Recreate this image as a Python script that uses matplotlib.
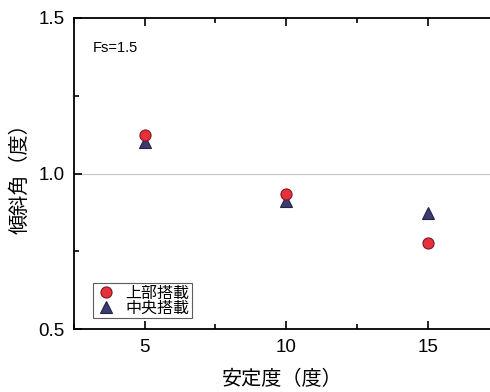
import matplotlib.pyplot as plt
from matplotlib.ticker import MultipleLocator

plt.rcParams['font.family'] = ['Liberation Sans', 'Noto Sans CJK JP', 'DejaVu Sans']

# data
stability = [5, 10, 15]
top_load = [1.124, 0.934, 0.778]
center_load = [1.102, 0.912, 0.873]
series_labels = ['上部搭載', '中央搭載']

fig = plt.figure(figsize=(4.9, 3.92), dpi=100)
ax = fig.add_axes([74 / 490, 1 - 329 / 392, 1 - 74 / 490, (329 - 18) / 392])

# reference line at 1.0
ax.axhline(1.0, color='#c8c8c8', lw=0.9, zorder=1)

ax.plot(stability, top_load, 'o', ms=8, color='#e8303c', mec='#7a1a20',
        mew=0.8, label=series_labels[0], zorder=3)
ax.plot(stability, center_load, '^', ms=8.5, color='#3c3c6e', mec='#22224a',
        mew=0.8, label=series_labels[1], zorder=2)

ax.set_xlim(2.5, 17.2)
ax.set_ylim(0.5, 1.5)
ax.xaxis.set_major_locator(MultipleLocator(5))
ax.xaxis.set_minor_locator(MultipleLocator(2.5))
ax.yaxis.set_major_locator(MultipleLocator(0.5))
ax.yaxis.set_minor_locator(MultipleLocator(0.25))
ax.yaxis.set_major_formatter(lambda v, p: f'{v:.1f}')
ax.tick_params(which='both', direction='in', top=True, width=1.2)
ax.tick_params(which='major', length=6, labelsize=13.5, pad=7)
ax.tick_params(which='minor', length=3.5)
ax.spines['right'].set_visible(False)
for s in ['left', 'bottom', 'top']:
    ax.spines[s].set_linewidth(1.3)

ax.set_xlabel('安定度（度）', fontsize=14.5, labelpad=10)
ax.set_ylabel('傾斜角（度）', fontsize=14.5, labelpad=6)

ax.text(0.045, 0.89, 'Fs=1.5', transform=ax.transAxes, fontsize=10.5)

leg = ax.legend(loc='lower left', bbox_to_anchor=(0.045, 0.035), fontsize=11.5,
                frameon=True, fancybox=False, edgecolor='#333333',
                handletextpad=0.5, borderpad=0.15, labelspacing=0.0,
                handlelength=1.4, borderaxespad=0)
leg.get_frame().set_linewidth(0.8)

fig.savefig('out.png', dpi=100)
